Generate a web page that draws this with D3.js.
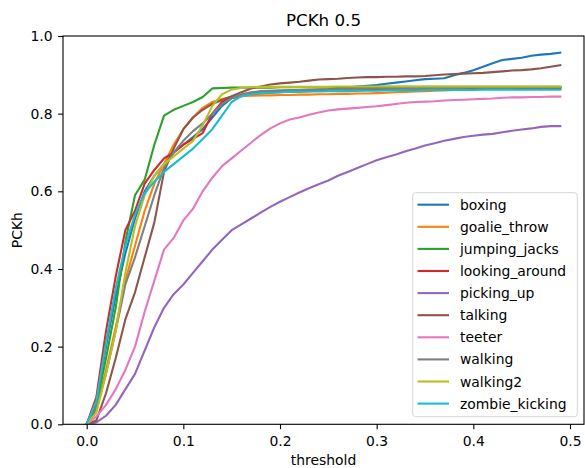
<!DOCTYPE html>
<html>
<head>
<meta charset="utf-8">
<script src="https://cdn.jsdelivr.net/npm/d3@7"></script>
<style>
  body { margin: 0; background: #fff; }
  text { font-family: "DejaVu Sans", sans-serif; }
</style>
</head>
<body>
<div id="chart"></div>
<script>
/* thresholds 0.00 .. 0.49, one value per step of 0.01 */
var thresholds = d3.range(50).map(function (i) { return i / 100; });

var names = ["boxing", "goalie_throw", "jumping_jacks", "looking_around", "picking_up",
  "talking", "teeter", "walking", "walking2", "zombie_kicking"];
var colors = ["#1f77b4", "#ff7f0e", "#2ca02c", "#d62728", "#9467bd",
  "#8c564b", "#e377c2", "#7f7f7f", "#bcbd22", "#17becf"];

var boxing = [0, 0.06, 0.20, 0.33, 0.44, 0.53, 0.60, 0.64, 0.67, 0.70,
  0.72, 0.74, 0.76, 0.79, 0.82, 0.84, 0.845, 0.85, 0.852, 0.854,
  0.855, 0.857, 0.858, 0.86, 0.862, 0.863, 0.865, 0.868, 0.870, 0.872,
  0.874, 0.877, 0.880, 0.883, 0.886, 0.889, 0.890, 0.891, 0.899, 0.905,
  0.912, 0.921, 0.930, 0.938, 0.941, 0.944, 0.949, 0.952, 0.954, 0.957];
var goalieThrow = [0, 0.04, 0.14, 0.25, 0.37, 0.46, 0.55, 0.62, 0.67, 0.72,
  0.76, 0.79, 0.815, 0.83, 0.838, 0.843, 0.845, 0.846, 0.847, 0.847,
  0.848, 0.848, 0.849, 0.849, 0.850, 0.850, 0.851, 0.851, 0.852, 0.852,
  0.853, 0.854, 0.855, 0.856, 0.857, 0.858, 0.859, 0.860, 0.861, 0.862,
  0.863, 0.864, 0.864, 0.865, 0.865, 0.866, 0.866, 0.866, 0.867, 0.867];
var jumpingJacks = [0, 0.05, 0.17, 0.30, 0.47, 0.59, 0.63, 0.72, 0.795, 0.81,
  0.82, 0.83, 0.843, 0.865, 0.866, 0.867, 0.867, 0.867, 0.867, 0.867,
  0.868, 0.868, 0.868, 0.868, 0.868, 0.868, 0.868, 0.868, 0.868, 0.868,
  0.869, 0.869, 0.869, 0.869, 0.869, 0.869, 0.869, 0.869, 0.869, 0.869,
  0.869, 0.869, 0.869, 0.869, 0.869, 0.869, 0.869, 0.869, 0.869, 0.869];
var lookingAround = [0, 0.07, 0.24, 0.38, 0.50, 0.55, 0.62, 0.655, 0.685, 0.70,
  0.72, 0.735, 0.75, 0.80, 0.83, 0.842, 0.848, 0.852, 0.854, 0.856,
  0.857, 0.857, 0.858, 0.858, 0.859, 0.859, 0.860, 0.860, 0.860, 0.861,
  0.861, 0.861, 0.862, 0.862, 0.862, 0.862, 0.863, 0.863, 0.863, 0.863,
  0.864, 0.864, 0.864, 0.864, 0.864, 0.865, 0.865, 0.865, 0.865, 0.865];
var pickingUp = [0, 0.005, 0.022, 0.05, 0.09, 0.13, 0.19, 0.25, 0.30, 0.335,
  0.36, 0.39, 0.42, 0.45, 0.475, 0.50, 0.515, 0.53, 0.545, 0.56,
  0.573, 0.585, 0.597, 0.608, 0.618, 0.628, 0.64, 0.65, 0.66, 0.67,
  0.68, 0.688, 0.695, 0.703, 0.71, 0.718, 0.724, 0.73, 0.735, 0.74,
  0.743, 0.746, 0.748, 0.752, 0.756, 0.759, 0.762, 0.766, 0.768, 0.768];
var talking = [0, 0.01, 0.08, 0.17, 0.27, 0.34, 0.43, 0.52, 0.65, 0.71,
  0.76, 0.79, 0.81, 0.825, 0.835, 0.845, 0.855, 0.865, 0.87, 0.875,
  0.878, 0.88, 0.882, 0.885, 0.888, 0.889, 0.89, 0.892, 0.893, 0.894,
  0.894, 0.895, 0.895, 0.896, 0.896, 0.897, 0.899, 0.901, 0.902, 0.903,
  0.904, 0.905, 0.907, 0.909, 0.911, 0.912, 0.914, 0.917, 0.921, 0.925];
var teeter = [0, 0.02, 0.05, 0.09, 0.14, 0.20, 0.29, 0.37, 0.45, 0.48,
  0.525, 0.555, 0.60, 0.635, 0.665, 0.685, 0.705, 0.725, 0.745, 0.762,
  0.775, 0.785, 0.79, 0.797, 0.803, 0.808, 0.811, 0.813, 0.815, 0.817,
  0.819, 0.822, 0.825, 0.828, 0.83, 0.831, 0.832, 0.834, 0.835, 0.836,
  0.837, 0.838, 0.839, 0.841, 0.842, 0.842, 0.843, 0.843, 0.844, 0.844];
var walking = [0, 0.04, 0.13, 0.24, 0.36, 0.43, 0.51, 0.59, 0.66, 0.70,
  0.73, 0.755, 0.775, 0.80, 0.825, 0.84, 0.85, 0.855, 0.858, 0.859,
  0.860, 0.861, 0.861, 0.862, 0.862, 0.863, 0.863, 0.864, 0.864, 0.864,
  0.865, 0.865, 0.865, 0.865, 0.866, 0.866, 0.866, 0.866, 0.866, 0.867,
  0.867, 0.867, 0.867, 0.867, 0.867, 0.868, 0.868, 0.868, 0.868, 0.868];
var walking2 = [0, 0.03, 0.13, 0.24, 0.39, 0.51, 0.59, 0.64, 0.67, 0.69,
  0.71, 0.73, 0.77, 0.82, 0.85, 0.862, 0.866, 0.868, 0.869, 0.869,
  0.869, 0.869, 0.869, 0.869, 0.869, 0.869, 0.870, 0.870, 0.870, 0.870,
  0.870, 0.870, 0.870, 0.870, 0.870, 0.870, 0.870, 0.870, 0.870, 0.870,
  0.870, 0.870, 0.870, 0.870, 0.870, 0.870, 0.870, 0.870, 0.870, 0.870];
var zombieKicking = [0, 0.06, 0.21, 0.35, 0.46, 0.54, 0.595, 0.625, 0.65, 0.67,
  0.69, 0.71, 0.735, 0.76, 0.795, 0.83, 0.845, 0.85, 0.853, 0.854,
  0.855, 0.856, 0.856, 0.857, 0.857, 0.858, 0.858, 0.858, 0.859, 0.859,
  0.859, 0.860, 0.860, 0.860, 0.860, 0.861, 0.861, 0.861, 0.861, 0.861,
  0.861, 0.862, 0.862, 0.862, 0.862, 0.862, 0.862, 0.862, 0.862, 0.862];

var seriesValues = [boxing, goalieThrow, jumpingJacks, lookingAround, pickingUp,
  talking, teeter, walking, walking2, zombieKicking];

var xTicks = [0, 0.1, 0.2, 0.3, 0.4, 0.5];
var yTicks = [0, 0.2, 0.4, 0.6, 0.8, 1.0];

/* layout */
var width = 585, height = 468;
var plot = {left: 63, top: 36, right: 584, bottom: 424.3};
var fontSize = 13.9;

var svg = d3.select("#chart").append("svg")
    .attr("width", width)
    .attr("height", height);

var x = d3.scaleLinear().domain([-0.0245, 0.5145]).range([plot.left, plot.right]);
var y = d3.scaleLinear().domain([0, 1]).range([plot.bottom, plot.top]);

/* lines, clipped to the axes box */
svg.append("clipPath").attr("id", "clip")
  .append("rect")
    .attr("x", plot.left).attr("y", plot.top)
    .attr("width", plot.right - plot.left).attr("height", plot.bottom - plot.top);

var line = d3.line()
    .x(function (d, i) { return x(thresholds[i]); })
    .y(function (d) { return y(d); });

svg.append("g").attr("clip-path", "url(#clip)")
  .selectAll("path")
  .data(seriesValues)
  .enter()
  .append("path")
    .attr("d", line)
    .attr("fill", "none")
    .attr("stroke", function (d, i) { return colors[i]; })
    .attr("stroke-width", 2.1)
    .attr("stroke-linejoin", "round")
    .attr("stroke-linecap", "square");

/* axes */
var xAxis = svg.append("g")
    .attr("transform", "translate(0," + plot.bottom + ")")
    .call(d3.axisBottom(x).tickValues(xTicks).tickFormat(d3.format(".1f"))
      .tickSize(4.9).tickPadding(7));
var yAxis = svg.append("g")
    .attr("transform", "translate(" + plot.left + ",0)")
    .call(d3.axisLeft(y).tickValues(yTicks).tickFormat(d3.format(".1f"))
      .tickSize(4.9).tickPadding(5.5));

[xAxis, yAxis].forEach(function (g) {
  g.select(".domain").remove();
  g.selectAll(".tick line").attr("stroke", "#000").attr("stroke-width", 1.1);
  g.selectAll(".tick text")
      .attr("fill", "#000")
      .style("font-family", "DejaVu Sans")
      .style("font-size", fontSize + "px");
});

/* spines */
svg.append("rect")
    .attr("x", plot.left).attr("y", plot.top)
    .attr("width", plot.right - plot.left).attr("height", plot.bottom - plot.top)
    .attr("fill", "none")
    .attr("stroke", "#000")
    .attr("stroke-width", 1.1);

/* title and axis labels */
svg.append("text")
    .attr("x", (plot.left + plot.right) / 2)
    .attr("y", 26)
    .attr("text-anchor", "middle")
    .style("font-size", "16.7px")
    .text("PCKh 0.5");

svg.append("text")
    .attr("x", (plot.left + plot.right) / 2)
    .attr("y", 465)
    .attr("text-anchor", "middle")
    .style("font-size", fontSize + "px")
    .text("threshold");

svg.append("text")
    .attr("transform", "translate(21.5," + (plot.top + plot.bottom) / 2 + ") rotate(-90)")
    .attr("text-anchor", "middle")
    .style("font-size", fontSize + "px")
    .text("PCKh");

/* legend */
var legend = {left: 412.7, top: 192.7, width: 164.6, height: 224, row: 22.1, first: 204.7};
var lg = svg.append("g");
lg.append("rect")
    .attr("x", legend.left).attr("y", legend.top)
    .attr("width", legend.width).attr("height", legend.height)
    .attr("rx", 3)
    .attr("fill", "#fff").attr("fill-opacity", 0.8)
    .attr("stroke", "#d5d5d5").attr("stroke-width", 1);

var items = lg.selectAll("g.item")
    .data(names)
    .enter()
    .append("g")
    .attr("class", "item")
    .attr("transform", function (d, i) { return "translate(0," + (legend.first + i * legend.row) + ")"; });
items.append("line")
    .attr("x1", 417.5).attr("x2", 449)
    .attr("stroke", function (d, i) { return colors[i]; })
    .attr("stroke-width", 2.1);
items.append("text")
    .attr("x", 460)
    .attr("dy", "0.36em")
    .style("font-size", fontSize + "px")
    .text(function (d) { return d; });
</script>
</body>
</html>
